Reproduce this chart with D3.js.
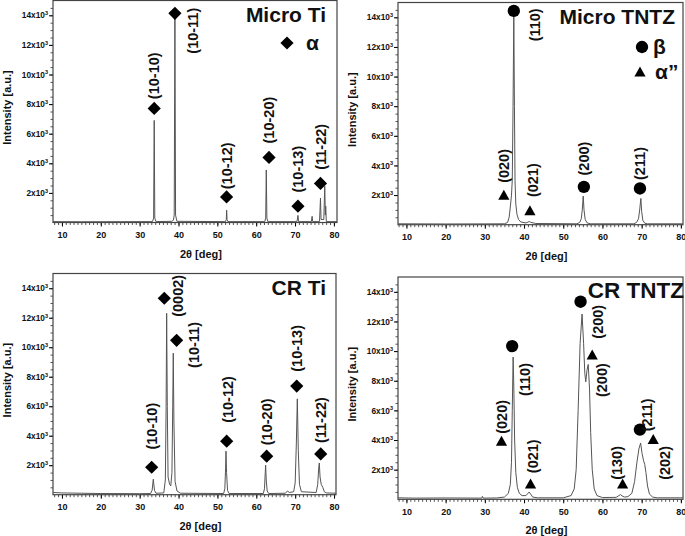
<!DOCTYPE html>
<html lang="en">
<head>
<meta charset="utf-8" />
<title>XRD patterns</title>
<script src="https://d3js.org/d3.v7.min.js"></script>
<style>
  body { margin: 0; background: #fff; }
  svg text { font-family: "Liberation Sans", Arial, sans-serif; font-weight: bold; fill: #111; }
</style>
</head>
<body>
<svg id="chart" width="685" height="536"></svg>
<script>
// ---- data: [2theta, intensity] ----
var microTi = [[7.7,60],[15,50],[25,55],[33.3,60],[33.6,300],[33.75,6900],[33.9,300],[34.2,60],[38.3,80],[38.7,160],[38.9,500],[39.08,14100],[39.25,500],[39.6,80],
  [52.1,60],[52.3,200],[52.4,830],[52.5,200],[52.7,60],[62.2,60],[62.45,300],[62.6,3550],[62.75,300],[63,60],[70.5,60],[70.75,480],[70.9,60],
  [74.2,60],[74.4,420],[74.55,60],[76.3,60],[76.55,1650],[76.7,200],[77.4,200],[77.65,2450],[77.8,500],[77.9,1100],[78.05,60],[80.8,60]];
var microTNTZ = [[7.85,60],[20,50],[30,55],[35.0,60],[35.8,150],[36.2,500],[36.5,1200],[36.8,2000],[37.0,3000],[37.2,8000],[37.39,14300],[37.55,8000],[37.7,3000],[37.9,1400],
  [38.2,700],[38.6,350],[39.2,180],[40.5,120],[41.0,170],[41.3,220],[41.7,160],[43,80],[53.5,60],[54.2,150],[54.6,400],[54.85,1000],[55.1,1930],[55.3,1000],[55.6,350],[56.1,120],[57,60],
  [68.0,60],[68.7,150],[69.2,400],[69.5,1000],[69.8,1775],[70.0,900],[70.3,300],[70.8,100],[71.5,60],[80.5,60]];
var crTi = [[7.7,150],[10,120],[15,100],[20,80],[30,70],[32.8,80],[33.2,300],[33.5,1050],[33.8,300],[34.2,100],[36.2,120],[36.6,1000],[36.8,6000],[36.94,12300],[37.1,6000],[37.3,1200],
  [37.7,700],[38.0,600],[38.3,1500],[38.5,6000],[38.64,9600],[38.8,5000],[39.1,900],[39.6,250],[40.5,100],[51.6,80],[51.9,400],[52.1,1800],[52.2,2950],[52.35,1500],[52.6,300],[53,80],
  [61.8,80],[62.1,400],[62.3,1500],[62.4,2000],[62.55,1000],[62.8,250],[63.2,80],[67.5,100],[68,250],[68.5,150],[69.6,200],[70.0,800],[70.3,3500],[70.55,6500],[70.8,3000],[71.1,700],[71.6,200],
  [75.4,150],[75.8,700],[76.05,1800],[76.2,2150],[76.4,1200],[76.7,700],[77.1,500],[77.5,200],[78,120],[80.5,100]];
var crTNTZ = [[7.85,100],[12,80],[20,90],[29.2,80],[29.4,200],[29.6,80],[33,90],[35,150],[36,400],[36.5,1000],[36.8,2500],[37.0,6000],[37.22,9600],[37.4,7500],[37.6,4000],[37.9,1800],
  [38.3,800],[38.8,400],[39.5,250],[40.5,250],[41.0,400],[41.3,490],[41.7,350],[42.2,150],[43.5,100],[50,100],[52,250],[52.8,700],[53.3,2000],[53.8,6000],[54.3,10500],[54.8,12500],
  [55.2,10500],[55.5,8500],[55.75,7925],[56.05,8700],[56.37,9100],[56.7,7500],[57.0,4500],[57.4,2000],[57.9,700],[58.6,250],[60,120],[63.5,130],[64.2,250],[64.6,320],[65.0,230],[65.6,150],
  [66.5,180],[67.5,400],[68.2,1200],[68.8,2500],[69.3,3400],[69.74,3800],[70.1,3100],[70.5,2600],[70.8,2340],[71.1,1800],[71.5,900],[72,350],[72.8,150],[74,100],[80.5,100]];

// markers: [2theta, intensity, symbol]  (d = alpha diamond, c = beta circle, t = alpha'' triangle)
var microTiMarks = [[33.75,7710,"d"],[39.08,14135,"d"],[52.38,1730,"d"],[63.3,4400,"d"],[70.75,1100,"d"],[76.55,2640,"d"]];
var microTNTZMarks = [[37.39,14434,"c"],[34.85,1980,"t"],[41.5,940,"t"],[55.26,2555,"c"],[69.57,2447,"c"]];
var crTiMarks = [[33.08,1860,"d"],[36.33,13320,"d"],[39.5,10466,"d"],[52.38,3630,"d"],[62.67,2610,"d"],[70.4,7365,"d"],[76.57,2765,"d"]];
var crTNTZMarks = [[36.97,10338,"c"],[34.25,3919,"t"],[41.66,1034,"t"],[54.42,13331,"c"],[57.39,9730,"t"],[65.15,1034,"t"],[69.56,4703,"c"],[72.96,4027,"t"]];

// peak labels: [2theta, intensity, text]
var microTiLabels = [[33.75,9915,"(10-10)"],[43.63,12959,"(10-11)"],[52.38,3828,"(10-12)"],[63.35,6919,"(10-20)"],[70.81,3605,"(10-13)"],[76.57,5113,"(11-22)"]];
var microTNTZLabels = [[42.75,13492,"(110)"],[34.84,3966,"(020)"],[42.17,3005,"(021)"],[55.26,4464,"(200)"],[69.56,4128,"(211)"]];
var crTiLabels = [[33.08,4648,"(10-10)"],[39.93,13483,"(0002)"],[44.04,10153,"(10-11)"],[52.64,6456,"(10-12)"],[62.68,4941,"(10-20)"],[70.4,9922,"(10-13)"],[76.57,5056,"(11-22)"]];
var crTNTZLabels = [[34.25,5561,"(020)"],[40.2,8081,"(110)"],[42.32,2905,"(021)"],[58.92,11980,"(200)"],[59.78,8041,"(200)"],[63.61,2453,"(130)"],[71.3,5700,"(211)"],[75.94,2453,"(202)"]];

var titles = ["Micro Ti", "Micro TNTZ", "CR Ti", "CR TNTZ"];
var xTicks = [10, 20, 30, 40, 50, 60, 70, 80];
var yTicks = [2000, 4000, 6000, 8000, 10000, 12000, 14000];

var svg = d3.select("#chart");

var panels = [
  {x0: 53, x1: 337, y0: 0.5, y1: 222.5, dom: [7.7, 80.8], data: microTi, marks: microTiMarks, labels: microTiLabels,
   title: titles[0], tx: 326, tsize: 21, legend: [["d", "α", 287, 43, 19]]},
  {x0: 398, x1: 683, y0: 2.5, y1: 224.7, dom: [7.85, 80.55], data: microTNTZ, marks: microTNTZMarks, labels: microTNTZLabels,
   title: titles[1], tx: 675, tsize: 21, legend: [["c", "β", 642, 47, 11], ["t", "α”", 640, 72, 15]]},
  {x0: 53, x1: 336, y0: 273.5, y1: 494.7, dom: [7.7, 80.5], data: crTi, marks: crTiMarks, labels: crTiLabels,
   title: titles[2], tx: 326, tsize: 21, legend: []},
  {x0: 398, x1: 683, y0: 277, y1: 499.3, dom: [7.85, 80.55], data: crTNTZ, marks: crTNTZMarks, labels: crTNTZLabels,
   title: titles[3], tx: 684, tsize: 22.5, legend: []}
];

function symbolPath(s) {
  if (s == "d") return "M0,-6.6L6.6,0L0,6.6L-6.6,0Z";
  if (s == "t") return "M0,-5.5L5.6,4.5L-5.6,4.5Z";
  return d3.symbol(d3.symbolCircle, 120)();
}

function fmt(d) { return d / 1000; }

panels.forEach(function(p) {
  var x = d3.scaleLinear().domain(p.dom).range([p.x0, p.x1]);
  var y = d3.scaleLinear().domain([0, 15000]).range([p.y1, p.y0]);
  var g = svg.append("g");

  // minor ticks
  var minorX = d3.range(8, 81, 1);
  g.append("g").attr("transform", "translate(0," + p.y1 + ")")
    .call(d3.axisBottom(x).tickValues(minorX).tickSize(2.5).tickFormat(""))
    .call(function(a) { a.select(".domain").remove(); a.selectAll("line").attr("stroke", "#555"); });
  var minorY = d3.range(500, 15000, 500);
  g.append("g").attr("transform", "translate(" + p.x0 + ",0)")
    .call(d3.axisLeft(y).tickValues(minorY).tickSize(2.5).tickFormat(""))
    .call(function(a) { a.select(".domain").remove(); a.selectAll("line").attr("stroke", "#555"); });

  // major axes
  var xa = g.append("g").attr("transform", "translate(0," + p.y1 + ")")
    .call(d3.axisBottom(x).tickValues(xTicks).tickSize(4).tickPadding(5));
  xa.select(".domain").remove();
  xa.selectAll("text").attr("font-size", 9).attr("font-family", null);

  var ya = g.append("g").attr("transform", "translate(" + p.x0 + ",0)")
    .call(d3.axisLeft(y).tickValues(yTicks).tickSize(4).tickFormat(""));
  ya.select(".domain").remove();
  ya.selectAll(".tick").each(function(d) {
    var t = d3.select(this).append("text").attr("x", -5).attr("dy", "0.32em")
      .attr("text-anchor", "end").attr("font-size", 8.3).attr("fill", "#111");
    t.append("tspan").text(fmt(d) + "x10");
    t.append("tspan").attr("font-size", 5.5).attr("dy", "-0.6em").text("3");
  });

  // frame
  g.append("rect").attr("x", p.x0).attr("y", p.y0).attr("width", p.x1 - p.x0).attr("height", p.y1 - p.y0)
    .attr("fill", "none").attr("stroke", "#444").attr("stroke-width", 1.2);

  // pattern line
  var line = d3.line().x(function(d) { return x(d[0]); }).y(function(d) { return y(d[1]); });
  g.append("path").datum(p.data).attr("d", line)
    .attr("fill", "none").attr("stroke", "#555").attr("stroke-width", 1);

  // markers
  g.selectAll(".mk").data(p.marks).enter().append("path")
    .attr("transform", function(d) { return "translate(" + x(d[0]) + "," + y(d[1]) + ")"; })
    .attr("d", function(d) { return symbolPath(d[2]); })
    .attr("fill", "#000");

  // peak labels (rotated)
  g.selectAll(".lb").data(p.labels).enter().append("text")
    .attr("transform", function(d) { return "translate(" + x(d[0]) + "," + y(d[1]) + ") rotate(-90)"; })
    .attr("text-anchor", "middle").attr("dy", "0.35em")
    .attr("font-size", 14.5).text(function(d) { return d[2]; });

  // title
  g.append("text").attr("x", p.tx).attr("y", p.y0 + 21)
    .attr("text-anchor", "end").attr("font-size", p.tsize).text(p.title);

  // legend
  p.legend.forEach(function(l) {
    g.append("path").attr("transform", "translate(" + l[2] + "," + l[3] + ")").attr("d", symbolPath(l[0])).attr("fill", "#000");
    g.append("text").attr("x", l[2] + l[4]).attr("y", l[3]).attr("dy", "0.35em").attr("font-size", 21).text(l[1]);
  });

  // axis titles
  g.append("text").attr("x", (p.x0 + p.x1) / 2 + 6).attr("y", p.y1 + 35)
    .attr("text-anchor", "middle").attr("font-size", 11).text("2θ [deg]");
  g.append("text").attr("transform", "translate(" + (p.x0 - 46) + "," + ((p.y0 + p.y1) / 2 - 4) + ") rotate(-90)")
    .attr("text-anchor", "middle").attr("dy", "0.35em").attr("font-size", 11).text("Intensity [a.u.]");
});
</script>
</body>
</html>
